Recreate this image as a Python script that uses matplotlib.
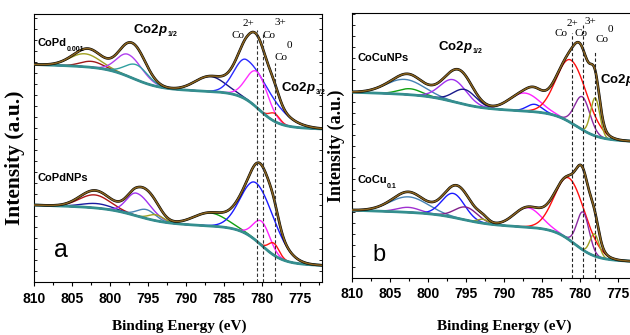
import numpy as np
import matplotlib
matplotlib.use("Agg")
import matplotlib.pyplot as plt
from matplotlib.ticker import MultipleLocator, FixedLocator

# ---------------- data ----------------
x_ticks = [810, 805, 800, 795, 790, 785, 780, 775]
x_tick_labels = ["810", "805", "800", "795", "790", "785", "780", "775"]

# Shirley-like background: [base, slope, step1, centre1, width1, step2, centre2, width2]
a_up_bg = [153, 0.25, 34, 780.3, 1.3, 21, 797.0, 1.8]
a_lo_bg = [16.5, 0.25, 36, 780.0, 1.4, 15, 796.5, 2.0]
b_up_bg = [136, 0.25, 27, 780.5, 1.5, 13, 796.5, 2.0]
b_lo_bg = [16, 0.25, 31, 780.7, 1.4, 11, 795.5, 2.0]

# fitted components (binding energy, height above background, widths)
a_up_centers = [803.3, 802.4, 797.6, 796.5, 786.8, 782.0, 780.6, 778.3]
a_up_heights = [13, 6, 22, 15, 15, 40, 36, 8]
a_up_sig_hi = [2.0, 1.5, 1.5, 1.5, 2.0, 1.6, 1.4, 0.7]
a_up_sig_lo = [2.0, 1.5, 1.8, 1.5, 2.0, 3.3, 1.4, 0.7]

a_lo_centers = [802.0, 801.7, 796.5, 795.2, 793.9, 786.8, 780.7, 780.0, 778.4]
a_lo_heights = [13, 4.5, 22.7, 9, 6, 13, 57.7, 24, 12]
a_lo_sig_hi = [2.0, 2.0, 1.3, 1.2, 1.0, 2.2, 2.0, 1.1, 0.7]
a_lo_sig_lo = [2.0, 2.0, 1.8, 1.2, 1.0, 2.2, 2.4, 1.1, 0.7]

b_up_centers = [803.1, 802.4, 796.7, 795.2, 787.3, 786.0, 781.2, 779.7, 778.0]
b_up_heights = [15, 6, 22, 15, 18, 7.5, 62.7, 33, 38]
b_up_sig_hi = [2.5, 1.5, 1.7, 1.5, 2.0, 1.0, 1.9, 1.0, 0.6]
b_up_sig_lo = [2.5, 1.5, 1.7, 1.5, 2.0, 1.0, 2.1, 1.0, 0.6]

b_lo_centers = [802.6, 802.6, 796.7, 795.0, 792.8, 786.9, 781.4, 779.6, 778.1]
b_lo_heights = [15.5, 5, 24, 13, 4, 19.5, 61.7, 38, 22]
b_lo_sig_hi = [2.5, 1.5, 1.5, 1.5, 0.7, 1.8, 1.9, 0.8, 0.6]
b_lo_sig_lo = [2.5, 1.5, 1.5, 1.5, 0.7, 1.8, 2.1, 0.8, 0.6]

# reference lines Co2+, Co3+, Co0
a_line_energies = [780.6, 779.8, 778.2]
b_line_energies = [781.1, 779.6, 778.05]

# ---------------- styles ----------------
a_up_colors = ['#a0a020', '#a01818', '#b040f0', '#30a0a0', '#18187f', '#2a2aff', '#ff30ff', '#ff2020']
a_lo_colors = ['#b01515', '#1a1aa0', '#a030f0', '#4682b4', '#a0a020', '#10a010', '#1a1aff', '#ff20ff', '#ff1010']
b_up_colors = ['#4682b4', '#10a010', '#a030f0', '#18188a', '#ff20ff', '#1a1aff', '#ff1010', '#8a2aa0', '#a0a020']
b_lo_colors = ['#4682b4', '#a030d0', '#1a1aff', '#80208a', '#a0a020', '#ff20ff', '#ff1010', '#8a2aa0', '#a0a020']

BG_COLOR = '#348f8f'
ENV_COLOR = '#8a6420'
SANS = ['Liberation Sans', 'DejaVu Sans']
SERIF = ['Liberation Serif', 'DejaVu Serif']

plt.rcParams['mathtext.fontset'] = 'custom'
plt.rcParams['mathtext.rm'] = 'Liberation Sans:bold'
plt.rcParams['mathtext.it'] = 'Liberation Sans:italic:bold'
plt.rcParams['mathtext.bf'] = 'Liberation Sans:bold'

E = np.linspace(810, 772, 700)


def background(p):
    base, slope, a1, c1, w1, a2, c2, w2 = p
    return (base + slope * (E - 772) + a1 / (1 + np.exp(-(E - c1) / w1))
            + a2 / (1 + np.exp(-(E - c2) / w2)))


def component(c, h, s_hi, s_lo):
    s = np.where(E >= c, s_hi, s_lo)
    return h * np.exp(-(E - c) ** 2 / (2 * s ** 2))


def draw_spectrum(ax, bgp, centers, heights, sh, sl, colors):
    bg = background(bgp)
    total = bg.copy()
    for c, h, a, b, col in zip(centers, heights, sh, sl, colors):
        g = component(c, h, a, b)
        total += g
        ax.plot(E, bg + g, color=col, lw=1.0, zorder=2)
    ax.plot(E, bg, color=BG_COLOR, lw=2.0, zorder=3)
    ax.plot(E, total, color='black', lw=1.9, zorder=4)
    ax.plot(E, total, color=ENV_COLOR, lw=1.1, zorder=5)


W, H = 630, 335
fig = plt.figure(figsize=(6.3, 3.35), dpi=100)


def ptext(x, y, s, **kw):
    fig.text(x / W, 1 - y / H, s, **kw)


def make_axes(left, right, top, bottom, ytop, right_spine=True):
    ax = fig.add_axes([left / W, 1 - bottom / H, (right - left) / W, (bottom - top) / H])
    ax.set_xlim(810, 772.1)
    ax.set_ylim(0, ytop)
    ax.xaxis.set_major_locator(FixedLocator(x_ticks))
    ax.set_xticklabels(x_tick_labels)
    ax.xaxis.set_minor_locator(MultipleLocator(2.5))
    ax.tick_params(axis='x', which='major', direction='out', length=3, width=0.8, pad=4,
                   labelsize=10)
    ax.tick_params(axis='x', which='minor', direction='out', length=2.5, width=0.8)
    ax.yaxis.set_major_locator(MultipleLocator(11))
    ax.tick_params(axis='y', which='major', direction='in', length=2.5, width=0.6,
                   left=True, right=right_spine, labelleft=False)
    for lab in ax.get_xticklabels():
        lab.set_family(SANS)
        lab.set_fontweight('bold')
    for sp in ax.spines.values():
        sp.set_linewidth(0.8)
    return ax


# ---------------- panel a ----------------
axa = make_axes(34, 321.7, 14, 282, 268)
draw_spectrum(axa, a_up_bg, a_up_centers, a_up_heights, a_up_sig_hi, a_up_sig_lo, a_up_colors)
draw_spectrum(axa, a_lo_bg, a_lo_centers, a_lo_heights, a_lo_sig_hi, a_lo_sig_lo, a_lo_colors)
for e, top in zip(a_line_energies, [252, 249, 219]):
    axa.plot([e, e], [0, top], color='#333333', lw=0.8, ls=(0, (3, 2)), zorder=6)

# ---------------- panel b ----------------
axb = make_axes(352.3, 640, 13, 277.7, 264.7, right_spine=False)
draw_spectrum(axb, b_up_bg, b_up_centers, b_up_heights, b_up_sig_hi, b_up_sig_lo, b_up_colors)
draw_spectrum(axb, b_lo_bg, b_lo_centers, b_lo_heights, b_lo_sig_hi, b_lo_sig_lo, b_lo_colors)
for e, top in zip(b_line_energies, [244.7, 252.7, 225.7]):
    axb.plot([e, e], [0, top], color='#222222', lw=0.8, ls=(0, (3, 2)), zorder=6)

# ---------------- axis titles ----------------
for x, y, fs in [(15, 158, 15.5), (336, 146, 13)]:
    ptext(x, y, 'Intensity (a.u.)', rotation=90, ha='center', va='center',
          family=SERIF, fontweight='bold', fontsize=fs)
for x in [179, 504]:
    ptext(x, 326, 'Binding Energy (eV)', ha='center', va='center',
          family=SERIF, fontweight='bold', fontsize=11)

# ---------------- annotations ----------------
lbl = dict(family=SANS, fontweight='bold', va='center', ha='left')
ptext(38, 43, 'CoPd', fontsize=8, **lbl)
ptext(67, 49.5, '0.001', fontsize=5, **lbl)
ptext(38, 178, 'CoPdNPs', fontsize=8, **lbl)
ptext(358, 58, 'CoCuNPs', fontsize=8, **lbl)
ptext(358, 180, 'CoCu', fontsize=8, **lbl)
ptext(387, 186.5, '0.1', fontsize=5, **lbl)

co = dict(family=SANS, fontweight='bold', va='baseline', ha='left', fontsize=9.5)
sub = dict(family=SANS, fontweight='bold', va='baseline', ha='left', fontsize=5)
for x, y, s in [(133, 33, '1/2'), (281, 91, '3/2'), (438, 50, '1/2'), (600, 83, '3/2')]:
    ptext(x, y, r'Co2$p$', **co)
    ptext(x + 35, y + 3, s, **sub)

sr = dict(family=SERIF, va='center', ha='center', fontsize=8)
for (cx, cy, s) in [(237.5, 36, 'Co'), (248.5, 24, '2+'), (269, 36, 'Co'), (280.5, 22.5, '3+'),
                    (281, 57, 'Co'), (289.5, 45, '0'),
                    (561, 34, 'Co'), (572, 24, '2+'), (581, 33, 'Co'), (590, 21.5, '3+'),
                    (602.5, 40, 'Co'), (610, 30, '0')]:
    ptext(cx, cy, s, **sr)

ptext(60.5, 250, 'a', ha='center', va='center', family=SANS, fontsize=18)
ptext(379.5, 255, 'b', ha='center', va='center', family=SANS, fontsize=17)

fig.savefig('out.png', dpi=100)
